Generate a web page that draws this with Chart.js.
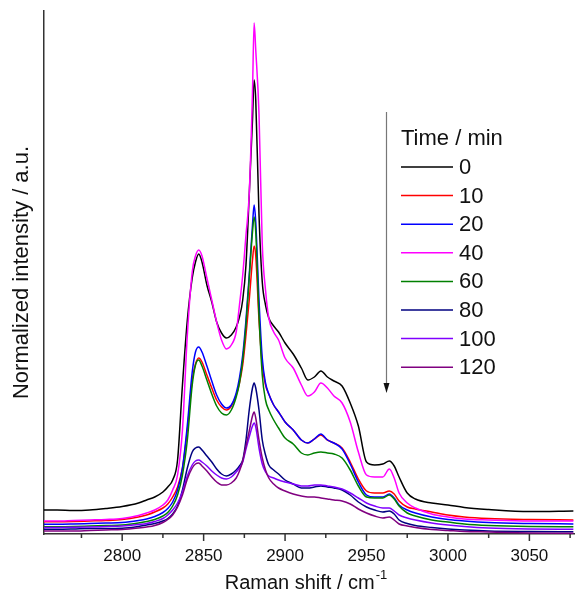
<!DOCTYPE html>
<html>
<head>
<meta charset="utf-8">
<script src="https://cdn.jsdelivr.net/npm/chart.js@4.4.1/dist/chart.umd.min.js"></script>
<style>
  html, body { margin: 0; padding: 0; background: #fff; }
  canvas { display: block; }
</style>
</head>
<body>
<canvas id="raman" width="575" height="593"></canvas>
<script>
// Raman shift axis (cm-1), shared by every spectrum
const wavenumber = [
  2752, 2760, 2770, 2780, 2790, 2800, 2810, 2815, 2820, 2825,
  2828, 2831, 2834, 2837, 2840, 2843, 2845, 2847, 2849, 2852,
  2855, 2858, 2861, 2864, 2867, 2870, 2872, 2874, 2876, 2878,
  2880, 2881, 2882, 2884, 2886, 2888, 2890, 2893, 2896, 2900,
  2905, 2910, 2914, 2918, 2922, 2926, 2930, 2935, 2940, 2945,
  2950, 2955, 2960, 2964, 2967, 2970, 2975, 2980, 2990, 3000,
  3010, 3025, 3050, 3077
];

const timeLabels = ['0', '10', '20', '40', '60', '80', '100', '120'];

// normalized intensity (a.u.), one array per time
const int0 = [
  24, 24, 23.5, 24, 25.5, 27.5, 31, 34, 37, 42,
  47, 54, 74, 149, 214, 256, 272, 280, 272, 249,
  232, 212, 201, 196, 199, 207, 217, 234, 269, 339,
  414, 454, 434, 319, 252, 229, 216, 208, 202, 191,
  180, 166, 154, 157, 163, 157, 153, 148, 131, 108,
  72, 69, 70, 73, 68, 57, 41, 35, 31, 29,
  26.5, 24.5, 22.5, 23
];
const int10 = [
  12.3, 12.3, 12.5, 13, 13.5, 14.5, 17, 19, 22, 26,
  30, 37, 47, 66, 104, 154, 170, 176, 172, 159,
  146, 134, 127, 124, 128, 139, 151, 169, 199, 234,
  274, 288, 278, 214, 169, 149, 140, 129, 122, 112,
  104, 94, 91, 95, 99, 94, 91, 86, 72, 55,
  43, 41, 41, 43, 40, 33, 27, 25, 22, 19,
  17, 15.5, 14.5, 14
];
const int20 = [
  9.7, 9.7, 10, 10.5, 11, 11.5, 13.5, 15, 17.5, 21.5,
  25.5, 32, 44, 66, 109, 162, 182, 187, 182, 168,
  153, 139, 130, 126, 129, 141, 156, 179, 214, 259,
  309, 329, 312, 234, 176, 151, 140, 129, 122, 112,
  104, 94, 91, 95, 100, 94, 91, 85, 70, 52,
  39, 37, 37, 40, 36, 29, 24, 21, 17, 14.5,
  13, 11.5, 10.5, 10
];
const int40 = [
  13, 13, 13.5, 14, 14.5, 15.5, 18.5, 21, 24, 29,
  34, 44, 59, 104, 199, 262, 278, 284, 278, 256,
  234, 212, 194, 185, 189, 202, 229, 259, 299, 340,
  442, 511, 484, 420, 290, 244, 216, 202, 194, 176,
  166, 149, 138, 142, 151, 146, 138, 131, 112, 82,
  59, 57, 57, 65, 56, 41, 31, 26, 20, 17,
  15, 14, 13, 13
];
const int60 = [
  7.3, 7.3, 7.5, 8, 8.5, 9, 11, 12.5, 14.5, 18,
  21.5, 28, 39, 59, 94, 149, 169, 174, 168, 154,
  140, 128, 121, 119, 124, 137, 151, 174, 209, 256,
  302, 317, 302, 219, 159, 134, 124, 114, 106, 96,
  90, 81, 79, 81, 82, 81, 80, 76, 64, 48,
  37, 36, 36, 39, 35, 28, 21, 18, 14, 12,
  10, 8.5, 7.5, 7.3
];
const int80 = [
  4.7, 4.7, 5, 5.5, 5.5, 5.7, 7.5, 9, 10.5, 13,
  15.5, 20, 28, 44, 66, 82, 86, 87, 84, 78,
  72, 65, 60, 58, 60, 64, 68, 74, 94, 124,
  146, 151, 146, 124, 94, 79, 69, 64, 60, 54,
  50, 46, 46, 47, 48, 47, 46, 44, 39, 32,
  27, 24, 22, 23, 20, 14, 10.5, 8.5, 6.5, 5,
  4, 3, 2.5, 2.3
];
const int100 = [
  6.5, 6.5, 6.7, 7, 7.5, 8, 9.5, 10.5, 12.5, 15.5,
  19, 24, 31, 42, 58, 69, 73, 74, 72, 68,
  63, 59, 56, 55, 57, 62, 66, 72, 85, 97,
  108, 111, 107, 86, 70, 62, 58, 56, 54, 52,
  50, 48, 48, 49, 49, 48, 47, 45, 41, 36,
  31, 28, 26, 26, 23, 19, 16, 14, 11, 9,
  7.5, 6, 5, 4.7
];
const int120 = [
  3, 3, 3, 3.5, 4, 4.5, 6, 7, 8.5, 11.5,
  14.5, 19, 27, 39, 55, 66, 70, 71, 68, 63,
  57, 52, 49, 49, 51, 56, 63, 73, 88, 103,
  118, 122, 116, 94, 76, 64, 56, 50, 46, 43,
  40, 38, 37, 37, 36, 35, 34, 33, 30, 25,
  21, 18, 16, 17, 14, 10, 8, 6.5, 4.5, 3.5,
  2.5, 2, 1, 0.7
];

const intensities = [int0, int10, int20, int40, int60, int80, int100, int120];
const lineColors = ['#000000', '#ff0000', '#0000ff', '#ff00ff', '#008000', '#000080', '#8000ff', '#800080'];

// x tick marks every 25, labels every 50
const xTicks = [2775, 2800, 2825, 2850, 2875, 2900, 2925, 2950, 2975, 3000, 3025, 3050, 3075];

const FONT = '"Liberation Sans", Arial, sans-serif';

const spectraDecor = {
  id: 'spectraDecor',
  afterDraw(chart) {
    const { ctx, chartArea, scales } = chart;
    const xs = scales.x;
    ctx.save();

    // outward ticks on the x axis
    ctx.strokeStyle = '#333';
    ctx.lineWidth = 1.5;
    xTicks.forEach(v => {
      const px = xs.getPixelForValue(v);
      const len = v % 50 === 0 ? 7 : 4;
      ctx.beginPath();
      ctx.moveTo(px, chartArea.bottom);
      ctx.lineTo(px, chartArea.bottom + len);
      ctx.stroke();
    });

    // x title with superscript
    ctx.fillStyle = '#111';
    ctx.textBaseline = 'alphabetic';
    ctx.textAlign = 'left';
    const main = 'Raman shift / cm';
    const sup = '-1';
    ctx.font = '20px ' + FONT;
    const w1 = ctx.measureText(main).width;
    ctx.font = '13px ' + FONT;
    const w2 = ctx.measureText(sup).width;
    const cx = (chartArea.left + chartArea.right) / 2 - 4;
    const x0 = cx - (w1 + w2) / 2;
    ctx.font = '20px ' + FONT;
    ctx.fillText(main, x0, 589);
    ctx.font = '13px ' + FONT;
    ctx.fillText(sup, x0 + w1 + 1, 579);

    // time arrow
    const ax = 386.5;
    ctx.strokeStyle = '#777';
    ctx.lineWidth = 1.2;
    ctx.beginPath();
    ctx.moveTo(ax, 112);
    ctx.lineTo(ax, 384);
    ctx.stroke();
    ctx.fillStyle = '#111';
    ctx.beginPath();
    ctx.moveTo(ax - 3, 383);
    ctx.lineTo(ax + 3, 383);
    ctx.lineTo(ax, 393);
    ctx.closePath();
    ctx.fill();

    // legend
    ctx.font = '22px ' + FONT;
    ctx.textBaseline = 'middle';
    ctx.fillStyle = '#111';
    ctx.fillText('Time / min', 401, 139);
    chart.data.datasets.forEach((ds, i) => {
      const y = 167 + i * 28.6;
      ctx.strokeStyle = ds.borderColor;
      ctx.lineWidth = 1.5;
      ctx.beginPath();
      ctx.moveTo(401, y);
      ctx.lineTo(453, y);
      ctx.stroke();
      ctx.fillStyle = '#111';
      ctx.fillText(ds.label, 459, y + 1);
    });

    ctx.restore();
  }
};

new Chart(document.getElementById('raman'), {
  type: 'line',
  data: {
    datasets: timeLabels.map((t, i) => ({
      label: t,
      data: wavenumber.map((w, k) => ({ x: w, y: intensities[i][k] })),
      borderColor: lineColors[i],
      borderWidth: 1.5,
      pointRadius: 0,
      fill: false,
      cubicInterpolationMode: 'monotone',
      order: timeLabels.length - i
    }))
  },
  options: {
    responsive: false,
    animation: false,
    layout: { autoPadding: false, padding: { top: 11, right: 0, left: 0, bottom: 0 } },
    plugins: {
      legend: { display: false },
      tooltip: { enabled: false }
    },
    scales: {
      x: {
        type: 'linear',
        min: 2752,
        max: 3078,
        afterBuildTicks: s => { s.ticks = xTicks.map(v => ({ value: v })); },
        afterFit: s => { s.height = 59; s.paddingLeft = 0; s.paddingRight = 0; },
        ticks: {
          autoSkip: false,
          maxRotation: 0,
          padding: 12,
          color: '#111',
          font: { family: FONT, size: 17 },
          callback: v => (v % 50 === 0 ? String(v) : '')
        },
        grid: { display: false, drawTicks: false },
        border: { display: true, color: '#333', width: 1.5 }
      },
      y: {
        min: 0,
        max: 523,
        afterFit: s => { s.width = 44; s.paddingTop = 0; s.paddingBottom = 0; },
        ticks: { display: false },
        grid: { display: false },
        border: { display: true, color: '#333', width: 1.5 },
        title: {
          display: true,
          text: 'Normalized intensity / a.u.',
          color: '#111',
          font: { family: FONT, size: 22 },
          padding: { top: 9, bottom: 0 }
        }
      }
    }
  },
  plugins: [spectraDecor]
});
</script>
</body>
</html>
